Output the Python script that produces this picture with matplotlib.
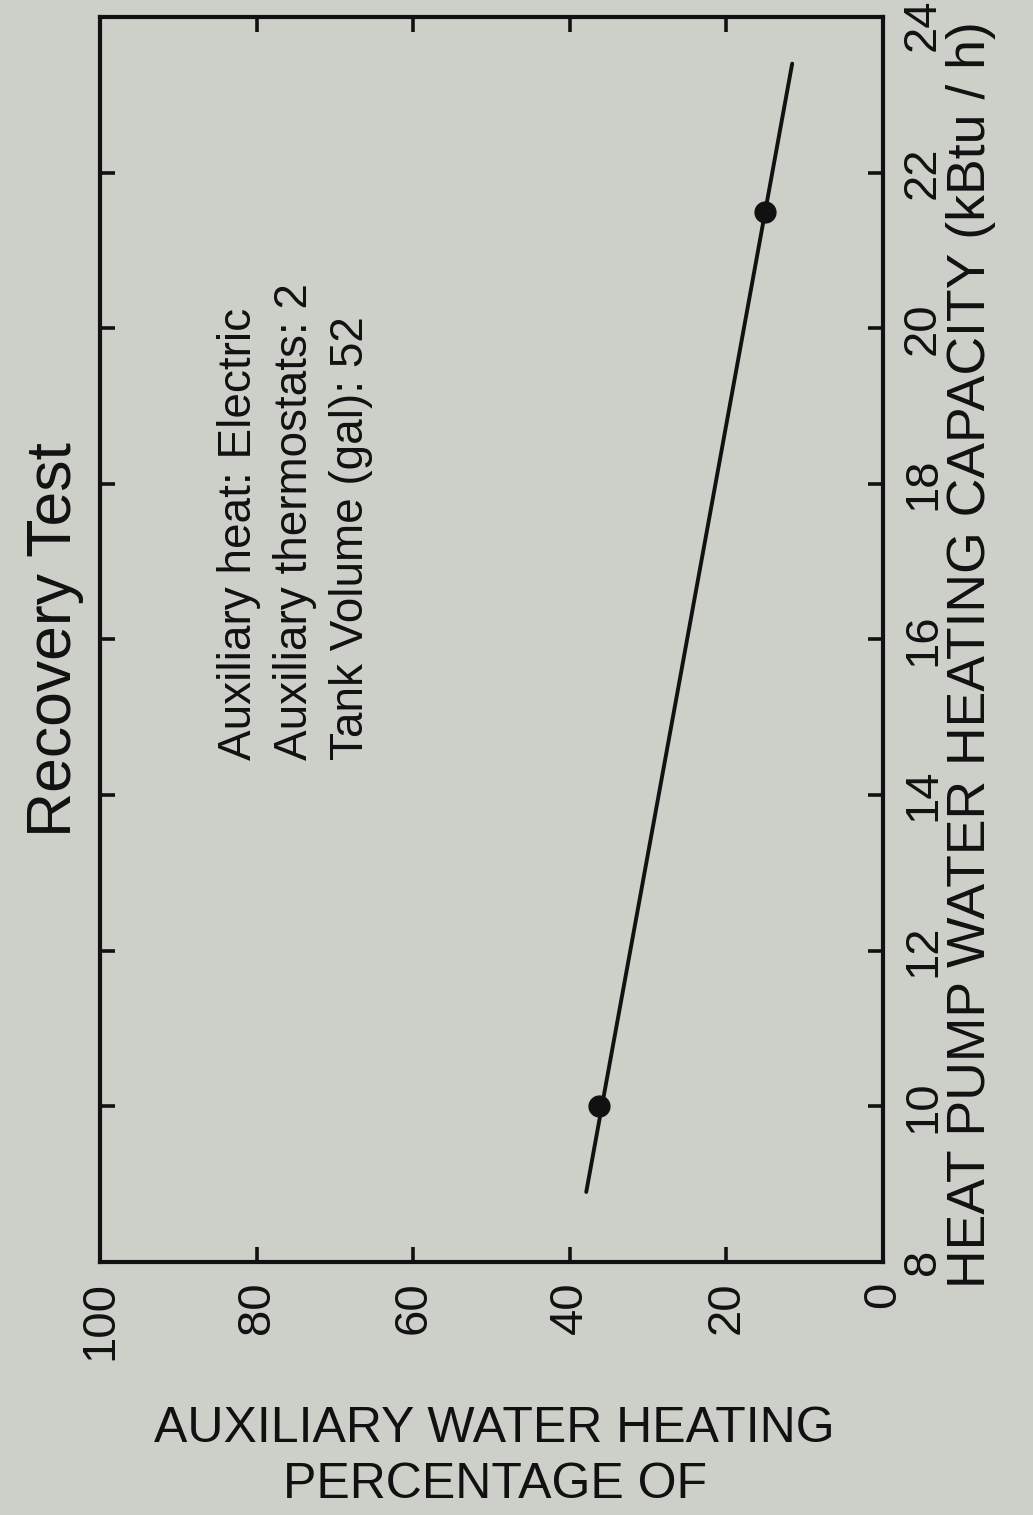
import matplotlib
matplotlib.use("Agg")
import matplotlib.pyplot as plt
from matplotlib.transforms import ScaledTranslation

# capacity (kBtu/h) vs percentage of auxiliary water heating
line_cap = [8.9, 23.4]
line_pct = [37.9, 11.6]
pts_cap = [10.0, 21.5]
pts_pct = [36.3, 15.1]

cap_ticks = [8, 10, 12, 14, 16, 18, 20, 22, 24]
pct_ticks = [0, 20, 40, 60, 80, 100]

notes = ["Auxiliary heat: Electric",
         "Auxiliary thermostats: 2",
         "Tank Volume (gal): 52"]

BG = "#cdd0c9"
INK = "#111111"

plt.rcParams["font.family"] = ["Liberation Sans", "DejaVu Sans"]

fig = plt.figure(figsize=(10.33, 15.15), dpi=100, facecolor=BG)
ax = fig.add_axes([0.0968, 0.1670, 0.7580, 0.8218])
ax.set_facecolor(BG)

# chart is drawn turned on its side: percentage runs horizontally (100 -> 0),
# capacity runs vertically with its axis on the right
ax.plot(line_pct, line_cap, color=INK, lw=2.8, solid_capstyle="round")
ax.plot(pts_pct, pts_cap, "o", color=INK, ms=15)

ax.set_xlim(100, 0)
ax.set_ylim(8, 24)
ax.set_xticks(pct_ticks)
ax.set_yticks(cap_ticks)

for s in ax.spines.values():
    s.set_linewidth(3.0)
    s.set_color(INK)

ax.tick_params(axis="both", direction="in", length=11, width=2.6, colors=INK,
               labelsize=34, top=True, bottom=True, left=True, right=True)
ax.tick_params(axis="y", labelleft=False, labelright=True, pad=13)
ax.tick_params(axis="x", pad=14)
for lab in ax.get_xticklabels():
    lab.set_rotation(90)
    lab.set_va("top")
    lab.set_ha("center")
ylabs = ax.get_yticklabels()
for lab in ylabs:
    lab.set_rotation(90)
    lab.set_va("center")
    lab.set_ha("left")
# nudge the top label down a bit so it stays inside the figure
ylabs[-1].set_transform(ylabs[-1].get_transform()
                        + ScaledTranslation(0, -0.08, fig.dpi_scale_trans))

ax.yaxis.set_label_position("right")
ax.set_ylabel("HEAT PUMP WATER HEATING CAPACITY (kBtu / h)", fontsize=38.5,
              rotation=90, ha="center", va="center", color=INK)
ax.yaxis.set_label_coords(1.1125, 0.4876)

ax.set_xlabel("AUXILIARY WATER HEATING\nPERCENTAGE OF", fontsize=36,
              ha="center", va="center", linespacing=1.3, color=INK)
ax.xaxis.set_label_coords(0.504, -0.1566)

for k, txt in enumerate(notes):
    ax.text(0.178 + 0.0715 * k, 0.403, txt, transform=ax.transAxes,
            rotation=90, ha="center", va="bottom", fontsize=33, color=INK)

fig.text(55 / 1033, 1 - 640 / 1515, "Recovery Test", rotation=90,
         ha="center", va="center", fontsize=45, color=INK)

fig.savefig("out.png", dpi=100, facecolor=BG)
